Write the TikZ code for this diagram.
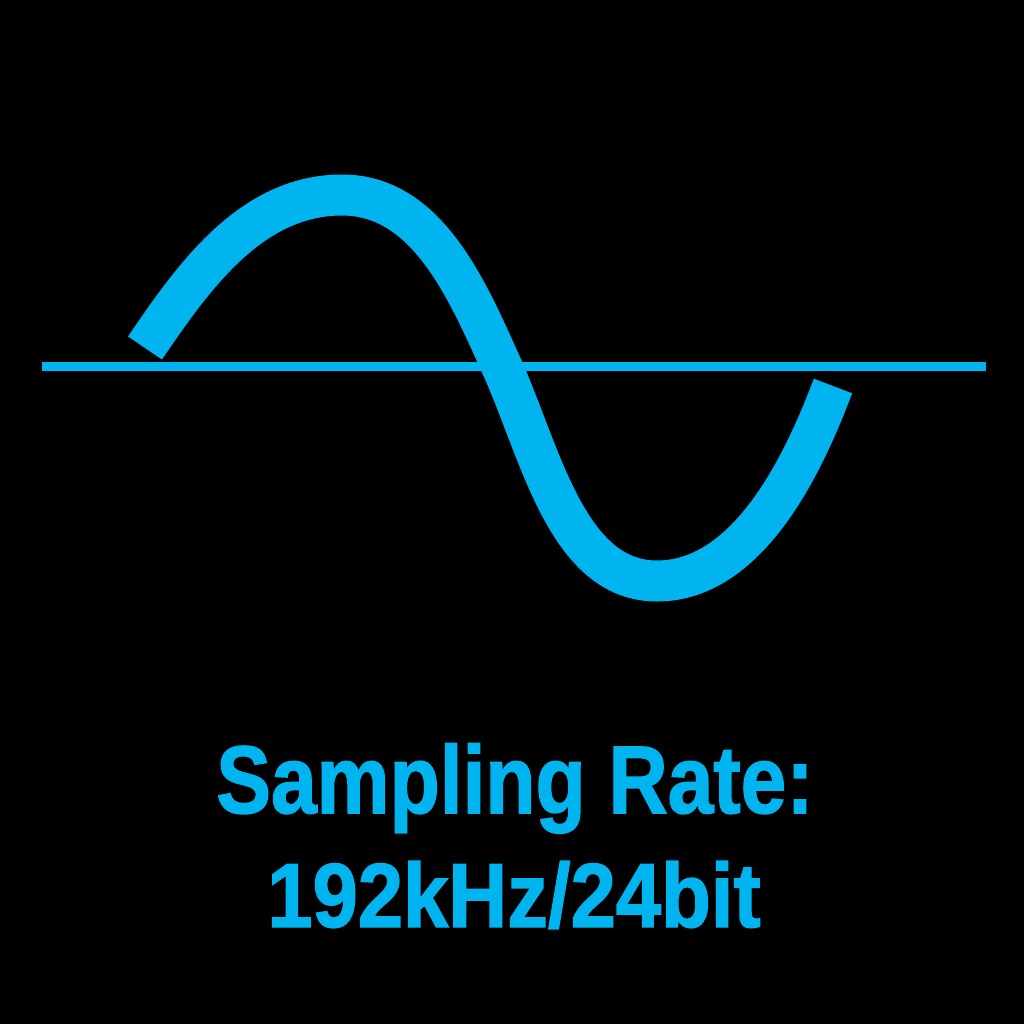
\documentclass[tikz,border=0pt]{standalone}
\usepackage{fontspec}
\setmainfont{Liberation Sans}
\newfontfamily\heavyfont[FakeBold=1.6]{Liberation Sans Bold}
\definecolor{wavecyan}{RGB}{0,180,240}
\tikzset{
  wave/.style={draw=wavecyan, line width=41pt, line cap=butt, line join=round},
  axisline/.style={draw=wavecyan, line width=9pt, line cap=butt},
  label/.style={text=wavecyan, inner sep=0pt, anchor=base}
}
\begin{document}
\begin{tikzpicture}[x=1pt,y=-1pt]
  \fill[black] (0,0) rectangle (1024,1024);
  \useasboundingbox (0,0) rectangle (1024,1024);
  % axis
  \coordinate (axL) at (42,366.5);
  \coordinate (axR) at (986,366.5);
  \draw[axisline] (axL) -- (axR);
  % wave
  \coordinate (w0) at (145,348);
  \coordinate (w1) at (342,195);
  \coordinate (w2) at (502,367);
  \coordinate (w3) at (657,581);
  \coordinate (w4) at (833,386);
  \draw[wave] (w0) .. controls (192,279) and (250,195) .. (w1)
                   .. controls (427,195) and (467,289) .. (w2)
                   .. controls (541,454) and (567,581) .. (w3)
                   .. controls (750,581) and (805,460) .. (w4);
  % text
  \node[label] (t1) at (515,813) {\scalebox{0.855}[1]{\fontsize{96}{96}\selectfont\heavyfont Sampling Rate:}};
  \node[label] (t2) at (514,927) {\scalebox{0.895}[1]{\fontsize{91}{91}\selectfont\heavyfont 192kHz/24bit}};
\end{tikzpicture}
\end{document}
